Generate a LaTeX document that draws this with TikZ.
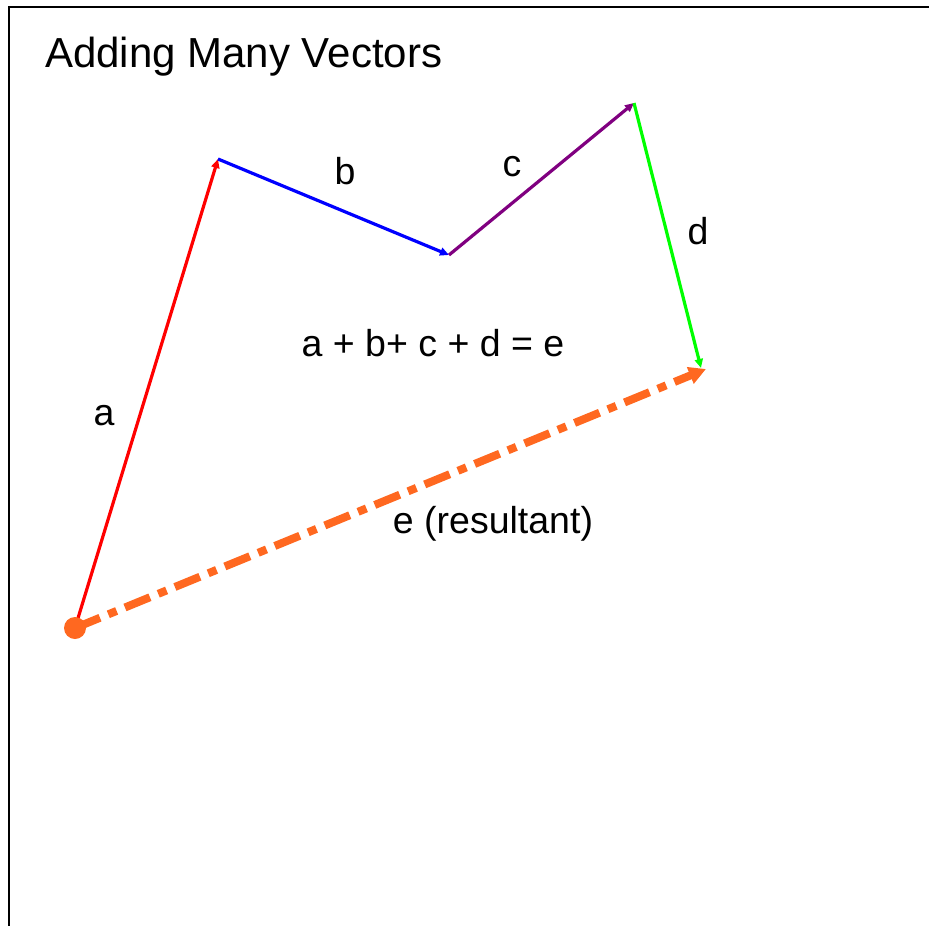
\documentclass[tikz,border=0pt]{standalone}
\usepackage{fontspec}
\setmainfont{Liberation Sans}
\usetikzlibrary{arrows.meta}
\begin{document}
\begin{tikzpicture}[x=1pt,y=-1pt,
    vec/.style={line width=3.2pt,-{Triangle[length=9pt,width=8pt]}},
    lbl/.style={font=\fontsize{37.5}{40}\selectfont,anchor=base,inner sep=0pt}]
\useasboundingbox (0,0) rectangle (929,926);
%Frame round the slide, cut off at the right and bottom
\draw[line width=2.5pt] (9,940) -- (9,7) -- (940,7);
\node[anchor=base west,inner sep=0pt,font=\fontsize{42}{46}\selectfont] (title) at (45,67) {Adding Many Vectors};
% the tips of the vectors, one after another
\coordinate (o) at (75,628);
\coordinate (p1) at (218,159);
\coordinate (p2) at (449,255);
\coordinate (p3) at (634,103);
\coordinate (p4) at (701,368);
\coordinate (pe) at (706,369);
\definecolor{cpurple}{RGB}{128,0,128}
\draw[vec,red] (o) -- (p1);
\draw[vec,blue] (p1) -- (p2);
\draw[vec,cpurple] (p2) -- (p3);
\draw[vec,green] (p3) -- (p4);
% the resultant, dash-dotted
\definecolor{resorange}{RGB}{255,104,32}
\draw[resorange,line width=8pt,dash pattern=on 27pt off 9pt on 9pt off 9pt,
      -{Triangle[length=17pt,width=17pt]}] (o) -- (pe);
\fill[resorange] (o) circle (11);
\node[lbl] (la) at (104,425) {a};
\node[lbl] (lb) at (345,184) {b};
\node[lbl] (lc) at (512,176) {c};
\node[lbl] (ld) at (698,244) {d};
\node[lbl] (sum) at (433,356) {a + b+ c + d = e};
\node[lbl] (le) at (493,533) {e (resultant)};
\end{tikzpicture}
\end{document}
